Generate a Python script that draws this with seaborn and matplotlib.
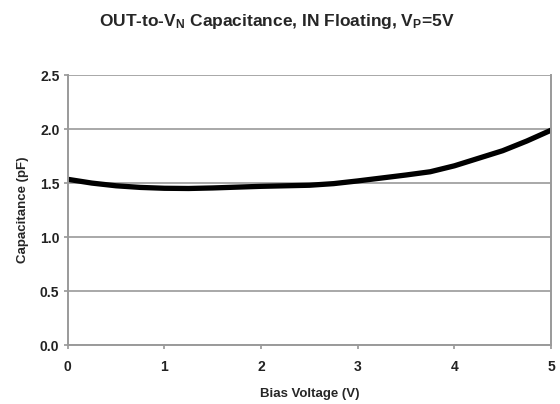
import matplotlib
matplotlib.use("Agg")
import matplotlib.pyplot as plt
import seaborn as sns
import pandas as pd

# ── Data ─────────────────────────────────────────────────────────────────────
bias_v = [0.0, 0.25, 0.5, 0.75, 1.0, 1.25, 1.5, 2.0, 2.5, 2.75, 3.0, 3.5, 3.75, 4.0, 4.25, 4.5, 4.75, 5.0]
cap_pf = [1.535, 1.50, 1.475, 1.46, 1.452, 1.45, 1.455, 1.47, 1.48, 1.495, 1.52, 1.575, 1.605, 1.66, 1.73, 1.80, 1.89, 1.99]
x_ticks = [0, 1, 2, 3, 4, 5]
y_ticks = [0.0, 0.5, 1.0, 1.5, 2.0, 2.5]

GRID_COL = "#9a9a9a"

sns.set_theme(style="white")
plt.rcParams["font.family"] = ["Liberation Sans", "DejaVu Sans"]
plt.rcParams["mathtext.fontset"] = "custom"
plt.rcParams["mathtext.rm"] = "Liberation Sans:bold"
plt.rcParams["mathtext.it"] = "Liberation Sans:bold"
plt.rcParams["mathtext.bf"] = "Liberation Sans:bold"

df = pd.DataFrame({"bias": bias_v, "cap": cap_pf})

fig = plt.figure(figsize=(5.6, 4.04), dpi=100)
fig.patch.set_facecolor("white")
ax = fig.add_axes([0.121, 0.146, 0.863, 0.668])

sns.lineplot(data=df, x="bias", y="cap", color="black", linewidth=3.8, ax=ax)

ax.set_xlim(0, 5)
ax.set_ylim(0, 2.5)
ax.set_xticks(x_ticks)
ax.set_xticklabels([str(t) for t in x_ticks])
ax.set_yticks(y_ticks)
ax.set_yticklabels([f"{t:.1f}" for t in y_ticks])

ax.grid(axis="y", color=GRID_COL, linewidth=1.2)
ax.set_axisbelow(True)
for side in ["left", "bottom", "right"]:
    ax.spines[side].set_color(GRID_COL)
    ax.spines[side].set_linewidth(1.4)
ax.spines["top"].set_visible(False)

ax.tick_params(axis="x", bottom=True, direction="out", length=3, color=GRID_COL,
               labelsize=10, pad=8)
ax.tick_params(axis="y", left=True, direction="out", length=3, color=GRID_COL,
               labelsize=10, pad=3)
for lbl in ax.get_xticklabels() + ax.get_yticklabels():
    lbl.set_fontweight("bold")
    lbl.set_color("#222222")

ax.set_xlabel("Bias Voltage (V)", fontsize=9.5, fontweight="bold", labelpad=10)
ax.set_ylabel("Capacitance (pF)", fontsize=9.5, fontweight="bold", labelpad=8)

fig.text(0.495, 0.948, r"OUT-to-V$_\mathrm{N}$ Capacitance, IN Floating, V$_\mathrm{P}$=5V",
         ha="center", va="center", fontsize=12.5, fontweight="bold")

plt.savefig("out.png", dpi=100, facecolor="white")
plt.close()
